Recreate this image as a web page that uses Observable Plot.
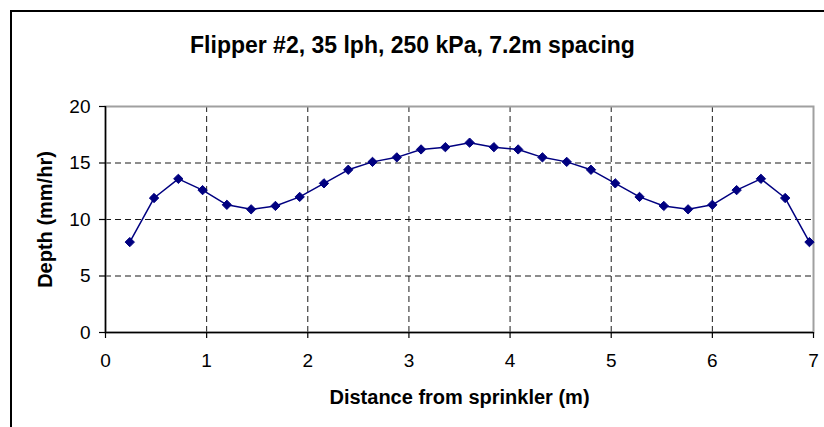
<!DOCTYPE html>
<html><head><meta charset="utf-8">
<script src="https://cdn.jsdelivr.net/npm/d3@7"></script>
<script src="https://cdn.jsdelivr.net/npm/@observablehq/plot@0.6"></script>
<style>
body{margin:0;background:#fff;}
#wrap{position:relative;width:824px;height:427px;overflow:hidden;background:#fff;}
#border{position:absolute;left:10px;top:10px;width:900px;height:500px;border:2px solid #000;box-sizing:border-box;}
#chart{position:absolute;left:0;top:0;}
</style></head><body>
<div id="wrap"><div id="border"></div><div id="chart"></div></div>
<script>
const distance = [0.24,0.48,0.72,0.96,1.20,1.44,1.68,1.92,2.16,2.40,2.64,2.88,3.12,3.36,3.60,3.84,4.08,4.32,4.56,4.80,5.04,5.28,5.52,5.76,6.00,6.24,6.48,6.72,6.96];
const depth = [8.0,11.9,13.6,12.6,11.3,10.9,11.2,12.0,13.2,14.4,15.1,15.5,16.2,16.4,16.8,16.4,16.2,15.5,15.1,14.4,13.2,12.0,11.2,10.9,11.3,12.6,13.6,11.9,8.0];
const xTicks = [0,1,2,3,4,5,6,7];
const yTicks = [0,5,10,15,20];
const xGrid = [1,2,3,4,5,6];
const yGrid = [5,10,15];
const title = "Flipper #2, 35 lph, 250 kPa, 7.2m spacing";
const xLabel = "Distance from sprinkler (m)";
const yLabel = "Depth (mm/hr)";
const data = distance.map((d, i) => ({distance: d, depth: depth[i]}));

const chart = Plot.plot({
  width: 824, height: 427,
  marginLeft: 105, marginTop: 106, marginRight: 11, marginBottom: 95,
  style: {fontFamily: "'Liberation Sans', Arial, sans-serif", fontSize: "19px", background: "transparent", color: "#000"},
  x: {domain: [0, 7]},
  y: {domain: [0, 20]},
  marks: [
    Plot.gridX(xGrid, {stroke: "#000", strokeOpacity: 0.9, strokeDasharray: "6,4", strokeWidth: 1}),
    Plot.gridY(yGrid, {stroke: "#000", strokeOpacity: 0.9, strokeDasharray: "6,4", strokeWidth: 1}),
    Plot.frame({stroke: "#a0a0a0", strokeWidth: 2}),
    Plot.axisX(xTicks, {tickSize: 6, tickPadding: 15, label: null, strokeWidth: 1.2}),
    Plot.axisY(yTicks, {tickSize: 6, tickPadding: 9, label: null, strokeWidth: 1.2}),
    Plot.ruleY([0], {stroke: "#000", strokeWidth: 1.5}),
    Plot.ruleX([0], {stroke: "#000", strokeWidth: 1.5}),
    Plot.line(data, {x: "distance", y: "depth", stroke: "#000080", strokeWidth: 1.5}),
    Plot.dot(data, {x: "distance", y: "depth", symbol: "diamond2", r: 4.2, fill: "#000080", stroke: "#000080", strokeWidth: 1}),
    Plot.text([title], {text: d => d, frameAnchor: "top", lineAnchor: "middle", textAnchor: "middle", dx: -47, dy: -61, fontWeight: "bold", fontSize: 23}),
    Plot.text([xLabel], {text: d => d, frameAnchor: "bottom", lineAnchor: "middle", textAnchor: "middle", dy: 65, fontWeight: "bold", fontSize: 20}),
    Plot.text([yLabel], {text: d => d, frameAnchor: "left", lineAnchor: "middle", textAnchor: "middle", dx: -60, rotate: -90, fontWeight: "bold", fontSize: 20})
  ]
});
document.getElementById("chart").appendChild(chart);
</script>
</body></html>
